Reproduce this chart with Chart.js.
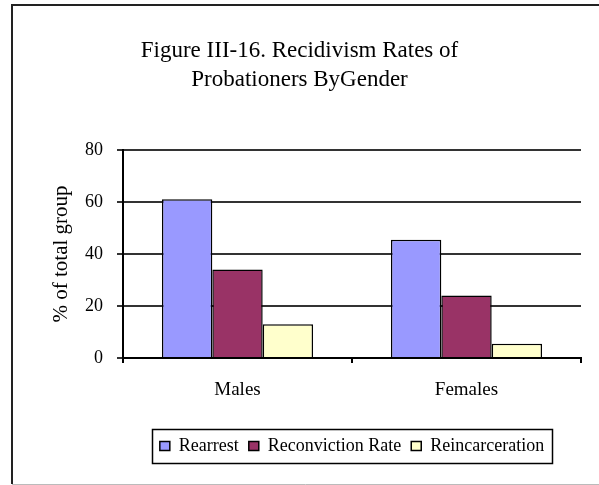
<!DOCTYPE html>
<html>
<head>
<meta charset="utf-8">
<script src="https://cdn.jsdelivr.net/npm/chart.js@4"></script>
<style>
  html, body { margin: 0; padding: 0; background: #fff; }
  #wrap { position: relative; width: 599px; height: 485px; }
</style>
</head>
<body>
<div id="wrap"><canvas id="recidChart" width="599" height="485"></canvas></div>
<script>
// Data
const groups = ['Males', 'Females'];
const rearrest = [61, 45.5];
const reconviction = [34, 24];
const reincarceration = [13, 5.5];
const yTicks = [0, 20, 40, 60, 80];

const serif = '"Liberation Serif", "Times New Roman", serif';

// outer frame, legend centred under the plot, legend box
const framePlugin = {
    id: 'frame',
    afterLayout(chart) {
        const lg = chart.legend;
        if (!lg) return;
        const d = (chart.chartArea.left + chart.chartArea.right) / 2 - (lg.left + lg.right) / 2;
        lg.left += d;
        lg.right += d;
        (lg.legendHitBoxes || []).forEach(b => { b.left += d; });
    },
    beforeDraw(chart) {
        const c = chart.ctx;
        c.save();
        c.fillStyle = '#fff';
        c.fillRect(0, 0, chart.width, chart.height);
        c.strokeStyle = '#222';
        c.lineWidth = 2;
        c.beginPath();
        c.moveTo(12, 484);
        c.lineTo(12, 5);
        c.lineTo(599, 5);
        c.stroke();
        c.strokeStyle = '#bbb';
        c.lineWidth = 1;
        c.beginPath();
        c.moveTo(12, 484.5);
        c.lineTo(599, 484.5);
        c.stroke();
        c.restore();
    },
    afterDraw(chart) {
        const lg = chart.legend;
        if (!lg || !lg.legendHitBoxes || !lg.legendHitBoxes.length) return;
        const boxes = lg.legendHitBoxes;
        const x0 = Math.min(...boxes.map(b => b.left)) - 8;
        const x1 = Math.max(...boxes.map(b => b.left + b.width)) + 8;
        const y0 = Math.min(...boxes.map(b => b.top)) - 8;
        const y1 = Math.max(...boxes.map(b => b.top + b.height)) + 8;
        const c = chart.ctx;
        c.save();
        c.strokeStyle = '#000';
        c.lineWidth = 1.5;
        c.strokeRect(Math.round(x0) + 0.5, Math.round(y0) + 0.5, Math.round(x1 - x0), Math.round(y1 - y0));
        c.restore();
    }
};

document.addEventListener('DOMContentLoaded', function() {
    const ctx = document.getElementById('recidChart').getContext('2d');
    new Chart(ctx, {
        type: 'bar',
        data: {
            labels: groups,
            datasets: [
                { label: 'Rearrest', data: rearrest, backgroundColor: '#9999FF' },
                { label: 'Reconviction Rate', data: reconviction, backgroundColor: '#993366' },
                { label: 'Reincarceration', data: reincarceration, backgroundColor: '#FFFFCC' }
            ].map(d => Object.assign(d, { borderColor: '#000', borderWidth: 1.5 }))
        },
        options: {
            responsive: false,
            animation: false,
            layout: { padding: { left: 18, right: 18, top: 36, bottom: 20 } },
            datasets: { bar: { categoryPercentage: 0.66, barPercentage: 1 } },
            plugins: {
                title: {
                    display: true,
                    text: ['Figure III-16. Recidivism Rates of', 'Probationers ByGender'],
                    color: '#000',
                    font: { family: serif, size: 23, weight: 'normal', lineHeight: 1.26 },
                    padding: { top: 0, bottom: 56 }
                },
                legend: {
                    position: 'bottom',
                    labels: {
                        color: '#000',
                        font: { family: serif, size: 18 },
                        boxWidth: 10,
                        boxHeight: 9,
                        padding: 10
                    }
                },
                tooltip: { enabled: false }
            },
            scales: {
                x: {
                    grid: { offset: true, drawOnChartArea: false, color: '#000', lineWidth: 2, tickLength: 5 },
                    border: { color: '#000', width: 2 },
                    ticks: { color: '#000', font: { family: serif, size: 19 }, padding: 16 },
                    afterFit(axis) { axis.height = 69; }
                },
                y: {
                    min: 0,
                    max: 80,
                    afterBuildTicks(axis) { axis.ticks = yTicks.map(v => ({ value: v })); },
                    grid: { color: '#333', lineWidth: 2, tickLength: 6 },
                    border: { color: '#000', width: 2 },
                    ticks: { color: '#000', font: { family: serif, size: 18 }, padding: 14 },
                    title: {
                        display: true,
                        text: '% of total group',
                        color: '#000',
                        font: { family: serif, size: 21 },
                        padding: { top: 31, bottom: 0 }
                    },
                    afterFit(axis) { axis.width = 105; }
                }
            }
        },
        plugins: [framePlugin]
    });
});
</script>
</body>
</html>
